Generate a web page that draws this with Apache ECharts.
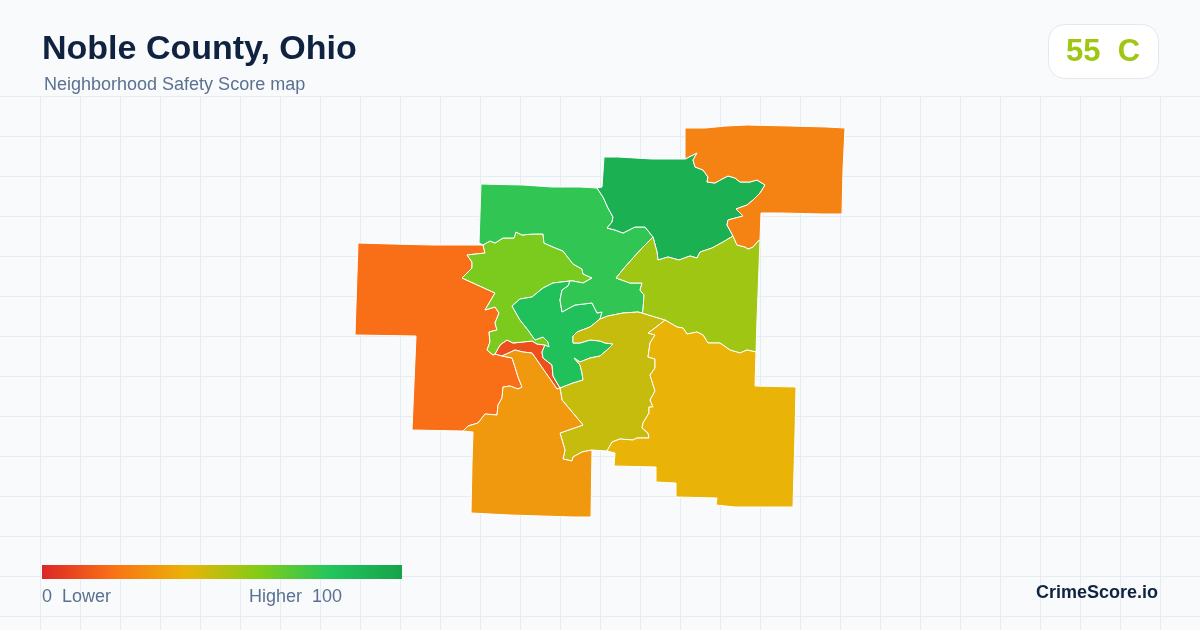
<!DOCTYPE html>
<html><head><meta charset="utf-8">
<style>html,body{margin:0;padding:0;background:#f8fafc}#c{width:1200px;height:630px}</style>
<script src="https://cdn.jsdelivr.net/npm/echarts@6/dist/echarts.min.js"></script>
</head><body><div id="c"></div>
<script>
const titleText = 'Noble County, Ohio';
const subtitleText = 'Neighborhood Safety Score map';
const badgeText = '55  C';
const brandText = 'CrimeScore.io';
const legendLow = '0  Lower';
const legendHigh = 'Higher  100';
const rampColors = ['#dc2626','#f97316','#eab308','#84cc16','#22c55e','#16a34a'];

const regionNames = ['A','B','C','D','E','F','G','H','I','J','K'];
const regionScores = [19,11,62,83,77,47,92,55,25,32,40];

/* shared boundaries of the neighbourhoods, map units */
const AC=[[483,245],[485,253],[467,255],[472,262],[472,268],[462,278],[495,293],[485,310],[495,307],[499,313],[495,323],[497,330],[489,332],[490,342],[487,350],[493,355],[495,354]];
const BA=[[495,354],[502,356]];
const AJ=[[502,356],[512,358],[515,367],[518,377],[522,387],[518,389],[510,386],[503,387],[502,398],[498,405],[497,415],[485,414],[478,423],[468,426],[463,431]];
const BC=[[495,354],[500,345],[507,340],[513,343],[523,342],[532,341],[537,344],[545,345]];
const BD=[[545,345],[542,352],[543,358],[552,365],[553,376],[560,388]];
const BJ=[[502,356],[515,350],[523,352],[532,353],[557,389],[560,388]];
const CD=[[570,281],[553,283],[543,288],[532,297],[520,299],[512,306],[520,320],[528,330],[535,340],[543,337],[548,342],[549,347],[545,345]];
const CE=[[483,245],[490,241],[495,243],[503,238],[514,238],[516,232],[522,235],[533,234],[543,234],[544,243],[553,247],[563,251],[573,264],[582,269],[583,274],[592,278],[583,283],[573,281],[570,281]];
const DE=[[570,281],[568,286],[562,290],[560,300],[562,312],[575,305],[592,303],[597,313],[602,312],[600,319]];
const DF=[[600,319],[590,327],[577,332],[573,336],[573,343],[580,343],[590,340],[600,341],[605,343],[613,344],[607,350],[600,356],[590,358],[580,362],[574,358],[580,365],[582,373],[583,380],[573,383],[560,388]];
const EF=[[600,319],[608,316],[623,313],[638,312],[642,313]];
const EH=[[653,237],[643,247],[633,258],[625,267],[616,278],[630,283],[642,283],[640,290],[644,295],[643,310],[642,313]];
const EG=[[597,188],[603,197],[608,208],[613,217],[612,222],[607,228],[615,230],[623,233],[635,227],[645,227],[653,237]];
const GH=[[653,237],[657,252],[658,260],[668,257],[679,260],[690,256],[697,258],[700,252],[712,248],[723,242],[733,236]];
const GI=[[733,236],[727,225],[728,220],[743,216],[736,209],[747,205],[753,200],[760,193],[765,185],[757,180],[750,182],[740,182],[735,178],[728,176],[722,179],[715,183],[707,182],[708,177],[703,170],[695,167],[693,160],[697,153],[685,159]];
const HI=[[733,236],[737,245],[745,247],[748,249],[753,247],[758,241],[760,240]];
const FH=[[642,313],[665,320]];
const HK=[[665,320],[677,327],[683,328],[687,334],[697,332],[703,335],[708,343],[720,343],[730,350],[740,353],[747,350],[756,352]];
const FK=[[665,320],[655,328],[648,333],[655,335],[650,343],[648,357],[655,359],[655,368],[650,375],[655,391],[650,400],[653,407],[649,407],[649,413],[643,423],[642,428],[648,433],[649,438],[637,438],[633,440],[620,439],[612,442],[607,451]];
const FJ=[[560,388],[562,400],[583,425],[560,433],[565,450],[563,459],[572,461],[573,457],[582,452],[592,450]];
/* outer edges */
const outerA=[[463,431],[412,430],[416,336],[355,335],[358,243],[392,244],[432,245],[483,245]];
const outerE=[[483,245],[479,243],[481,184],[523,185],[552,187],[580,187],[597,188]];
const outerG=[[597,188],[602,187],[604,157],[618,157],[652,159],[685,159]];
const outerI=[[685,159],[684,158],[685,128],[705,128],[726,126],[747,125],[790,126],[827,127],[845,128],[843,170],[842,214],[822,214],[782,213],[761,213],[760,240]];
const outerH=[[760,240],[757,320],[756,352]];
const outerK=[[756,352],[755,386],[796,387],[795,433],[793,507],[735,507],[716,505],[717,498],[676,497],[676,483],[656,482],[656,467],[614,466],[615,453],[607,451]];
const outerF=[[607,451],[592,450]];
const outerJ=[[592,450],[591,517],[573,517],[510,515],[471,513],[472,463],[473,432],[463,431]];

const r = a => a.slice().reverse();
const ring = (...parts) => { const o = [].concat(...parts); o.push(o[0]); return o; };
const rings = {
  A: ring(AC,BA,AJ,outerA),
  B: ring(BC,BD,r(BJ),r(BA)),
  C: ring(CE,CD,r(BC),r(AC)),
  D: ring(CD,BD,r(DF),r(DE)),
  E: ring(outerE,EG,EH,r(EF),r(DE),r(CE)),
  F: ring(EF,FH,FK,outerF,r(FJ),r(DF)),
  G: ring(outerG,r(GI),r(GH),r(EG)),
  H: ring(GH,HI,outerH,r(HK),r(FH),r(EH)),
  I: ring(outerI,r(HI),GI),
  J: ring(BJ,FJ,outerJ,r(AJ)),
  K: ring(HK,outerK,r(FK))
};
const geojson = {type:'FeatureCollection',features:regionNames.map(n=>({
  type:'Feature',properties:{name:n},geometry:{type:'Polygon',coordinates:[rings[n]]}
}))};
echarts.registerMap('noble',geojson);

const gridEls=[];
const lineColor='#e5edf2';
for(let x=40;x<1200;x+=40) gridEls.push({type:'line',silent:true,z:-5,shape:{x1:x+.5,y1:96,x2:x+.5,y2:630},style:{stroke:lineColor,lineWidth:1}});
for(let y=96;y<630;y+=40) gridEls.push({type:'line',silent:true,z:-5,shape:{x1:0,y1:y+.5,x2:1200,y2:y+.5},style:{stroke:lineColor,lineWidth:1}});

const chart=echarts.init(document.getElementById('c'),null,{renderer:'canvas'});
chart.setOption({
  animation:false,
  backgroundColor:'#f8fafc',
  title:[
    {text:titleText,left:42,top:33,padding:0,textStyle:{fontFamily:'Liberation Sans',fontSize:34,fontWeight:'bold',color:'#0f2340'}},
    {text:subtitleText,left:44,top:76,padding:0,textStyle:{fontFamily:'Liberation Sans',fontSize:18,fontWeight:'normal',color:'#5a7190'}}
  ],
  geo:{map:'noble',roam:false,silent:true,left:355,top:125,width:490,height:392,
    projection:{project:p=>p,unproject:p=>p},
    label:{show:false},
    itemStyle:{borderColor:'#ffffff',borderWidth:1},
    emphasis:{disabled:true},select:{disabled:true}},
  visualMap:{type:'continuous',show:false,min:0,max:100,seriesIndex:0,inRange:{color:rampColors}},
  series:[{type:'map',geoIndex:0,data:regionNames.map((n,i)=>({name:n,value:regionScores[i]}))}],
  graphic:gridEls.concat([
    {type:'rect',z:5,shape:{x:42,y:565,width:360,height:14},style:{fill:new echarts.graphic.LinearGradient(0,0,1,0,rampColors.map((c,i)=>({offset:i/(rampColors.length-1),color:c})))}},
    {type:'rect',z:5,shape:{x:1048.5,y:24.5,width:110,height:54,r:16},style:{fill:'#ffffff',stroke:'#e2e8f0',lineWidth:1}},
    {type:'text',z:6,style:{text:badgeText,x:1103,y:52,align:'center',verticalAlign:'middle',font:'bold 31px "Liberation Sans"',fill:'#9fc611'}},
    {type:'text',z:6,style:{text:legendLow,x:42,y:606,verticalAlign:'bottom',font:'18px "Liberation Sans"',fill:'#5a7190'}},
    {type:'text',z:6,style:{text:legendHigh,x:249,y:606,verticalAlign:'bottom',font:'18px "Liberation Sans"',fill:'#5a7190'}},
    {type:'text',z:6,style:{text:brandText,x:1158,y:602,align:'right',verticalAlign:'bottom',font:'bold 18px "Liberation Sans"',fill:'#0f2340'}}
  ])
});
</script></body></html>
